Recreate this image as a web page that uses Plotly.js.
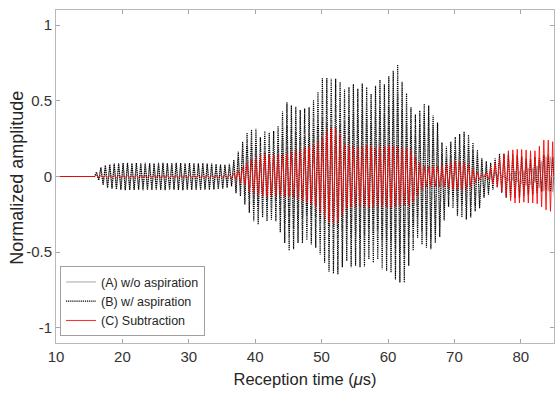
<!DOCTYPE html>
<html><head><meta charset="utf-8">
<script src="https://cdn.plot.ly/plotly-3.0.1.min.js"></script>
<style>html,body{margin:0;padding:0;background:#fff}#chart{width:558px;height:394px}</style>
</head><body><div id="chart"></div>
<script>
// Carrier timing (first cycle start and period, µs)
const cycleStart = 16.1;
const period = 0.667;
const preOnsetT = [10, 15.8];
const preOnsetV = [0, 0];

// (B) w/ aspiration: positive and negative peak of each cycle
const bUp = [0.03,0.06,0.075,
  0.08,0.085,0.088,0.09,0.09,0.088,0.09,0.089,0.09,0.088,0.087,0.09,0.09,0.088,0.09,0.091,0.089,0.088,0.09,0.089,0.087,0.088,0.086,0.085,0.082,0.08,
  0.078,0.084,0.11,0.165,0.23,0.29,0.31,0.315,0.26,0.30,0.29,0.30,0.335,
  0.43,0.49,0.47,0.46,0.44,0.45,0.457,0.505,0.56,0.65,0.65,0.645,0.645,0.625,0.575,0.59,0.61,0.58,0.615,0.59,0.545,0.60,0.637,0.61,0.663,0.70,0.74,0.626,0.55,0.457,0.41,0.435,0.48,0.47,0.405,0.356,0.224,0.198,0.23,0.26,0.28,0.297,0.275,0.224,0.176,0.12,0.10,0.09,0.12,0.15,0.15,0.143,0.15,0.143,0.13,0.115,0.115,0.13,0.125,0.143,0.143,0.13,0.13];
const bLo = [-0.025,-0.055,-0.075,
  -0.08,-0.086,-0.088,-0.09,-0.089,-0.09,-0.088,-0.09,-0.089,-0.09,-0.088,-0.089,-0.09,-0.089,-0.088,-0.09,-0.09,-0.088,-0.089,-0.09,-0.088,-0.087,-0.088,-0.086,-0.084,-0.08,
  -0.075,-0.065,-0.11,-0.13,-0.185,-0.24,-0.295,-0.317,-0.27,-0.295,-0.285,-0.295,-0.37,
  -0.44,-0.49,-0.48,-0.44,-0.44,-0.42,-0.45,-0.47,-0.515,-0.57,-0.63,-0.64,-0.646,-0.60,-0.558,-0.60,-0.59,-0.60,-0.595,-0.547,-0.57,-0.547,-0.613,-0.624,-0.635,-0.68,-0.70,-0.70,-0.59,-0.49,-0.405,-0.45,-0.47,-0.48,-0.44,-0.40,-0.29,-0.2,-0.21,-0.26,-0.27,-0.284,-0.27,-0.23,-0.21,-0.14,-0.12,-0.087,-0.07,-0.107,-0.14,-0.14,-0.14,-0.14,-0.13,-0.12,-0.12,-0.11,-0.1,-0.09,-0.1,-0.09,-0.09];

// (C) Subtraction: positive and negative peak of each cycle
const cUp = [0.01,0.006,0.005,0.004,0.005,0.006,0.004,0.005,0.004,0.006,0.005,0.004,0.005,0.006,0.004,0.005,0.004,0.006,0.005,0.004,0.005,0.006,0.004,0.005,0.004,0.006,0.005,0.004,0.006,0.008,0.01,
  0.02,0.04,0.06,0.09,0.11,0.12,0.14,0.143,0.145,0.14,0.145,0.15,0.15,0.16,0.17,0.18,0.19,0.2,0.21,0.23,0.26,0.30,0.32,0.32,0.28,0.22,0.2,
  0.2,0.19,0.2,0.21,0.2,0.19,0.2,0.2,0.21,0.2,0.2,0.19,0.19,
  0.17,0.13,0.09,0.07,0.066,0.066,0.07,0.075,0.08,0.09,0.1,0.1,0.095,0.08,0.05,0.03,0.012,0.03,0.06,0.09,0.12,0.15,0.17,0.176,0.18,0.178,0.175,0.17,0.17,0.2,0.24,0.24,0.23,0.2];
const cLo = [-0.008,-0.005,-0.004,-0.005,-0.006,-0.004,-0.005,-0.004,-0.006,-0.005,-0.004,-0.005,-0.006,-0.004,-0.005,-0.004,-0.006,-0.005,-0.004,-0.005,-0.006,-0.004,-0.005,-0.004,-0.006,-0.005,-0.004,-0.006,-0.005,-0.008,-0.012,
  -0.02,-0.04,-0.06,-0.1,-0.11,-0.12,
  -0.13,-0.13,-0.132,-0.13,-0.13,-0.133,-0.135,
  -0.14,-0.15,-0.16,-0.17,-0.185,-0.2,-0.24,-0.27,-0.30,-0.31,-0.30,-0.25,-0.21,
  -0.2,-0.2,-0.195,-0.2,-0.205,-0.2,-0.195,-0.2,-0.2,-0.205,-0.2,-0.195,-0.19,-0.19,
  -0.17,-0.13,-0.09,
  -0.07,-0.066,-0.066,-0.068,-0.07,-0.075,
  -0.085,-0.087,-0.087,-0.085,
  -0.07,-0.04,-0.02,-0.005,-0.02,-0.05,-0.07,-0.1,-0.13,-0.16,
  -0.175,-0.175,-0.17,-0.175,-0.175,-0.18,
  -0.2,-0.22,-0.23,-0.23,-0.22];

const xTicks = [10,20,30,40,50,60,70,80];
const yTicks = [-1,-0.5,0,0.5,1];
const yTickText = ['-1','-0.5','0','0.5','1'];

function build(up, lo){
  const x = preOnsetT.slice(), y = preOnsetV.slice();
  const n = Math.min(up.length, lo.length);
  for (let k = 0; k < n; k++){
    x.push(cycleStart + k*period);        y.push(up[k]);
    x.push(cycleStart + (k+0.5)*period);  y.push(lo[k]);
  }
  return {x, y};
}
const B = build(bUp, bLo);
const C = build(cUp, cLo);
// (A) = (B) - (C), the subtraction relation given in the legend
const A = {x: B.x, y: B.y.map((v,i) => v - C.y[i])};

const font = 'Liberation Sans, Arial, sans-serif';
const data = [
  {x:A.x, y:A.y, type:'scatter', mode:'lines', name:'(A) w/o aspiration',
   line:{color:'#a8a8a8', width:1}},
  {x:B.x, y:B.y, type:'scatter', mode:'lines', name:'(B) w/ aspiration',
   line:{color:'#000000', width:1.2, dash:'1.2px,0.9px'}},
  {x:C.x, y:C.y, type:'scatter', mode:'lines', name:'(C) Subtraction',
   line:{color:'rgba(255,0,0,0.85)', width:1}}
];
const layout = {
  width:558, height:394,
  margin:{l:56, r:4, t:10, b:51},
  paper_bgcolor:'#fff', plot_bgcolor:'#fff',
  showlegend:true,
  legend:{x:0.008, y:0.02, xanchor:'left', yanchor:'bottom', bgcolor:'#fff',
    bordercolor:'#a0a0a0', borderwidth:1, font:{family:font, size:12.5, color:'#262626'},
    itemwidth:30, tracegroupgap:0},
  xaxis:{range:[10,85], tickvals:xTicks, ticks:'inside', ticklen:4, tickcolor:'#a6a6a6',
    showline:true, linecolor:'#b8b8b8', linewidth:1, mirror:'ticks', showgrid:false, zeroline:false,
    tickfont:{family:font, size:15, color:'#333'},
    title:{text:'Reception time (<i>\u03bc</i>s)', font:{family:font, size:16.5, color:'#262626'}, standoff:9}},
  yaxis:{range:[-1.1,1.1], tickvals:yTicks, ticktext:yTickText, ticks:'inside', ticklen:4, tickcolor:'#a6a6a6',
    showline:true, linecolor:'#b8b8b8', linewidth:1, mirror:'ticks', showgrid:false, zeroline:false,
    tickfont:{family:font, size:15, color:'#333'}},
  annotations:[{text:'Normalized amplitude', xref:'paper', yref:'paper', x:-0.077, y:0.495,
    xanchor:'center', yanchor:'middle', textangle:-90, showarrow:false,
    font:{family:font, size:18, color:'#262626'}}]
};
Plotly.newPlot('chart', data, layout, {staticPlot:true, displayModeBar:false});
</script></body></html>
